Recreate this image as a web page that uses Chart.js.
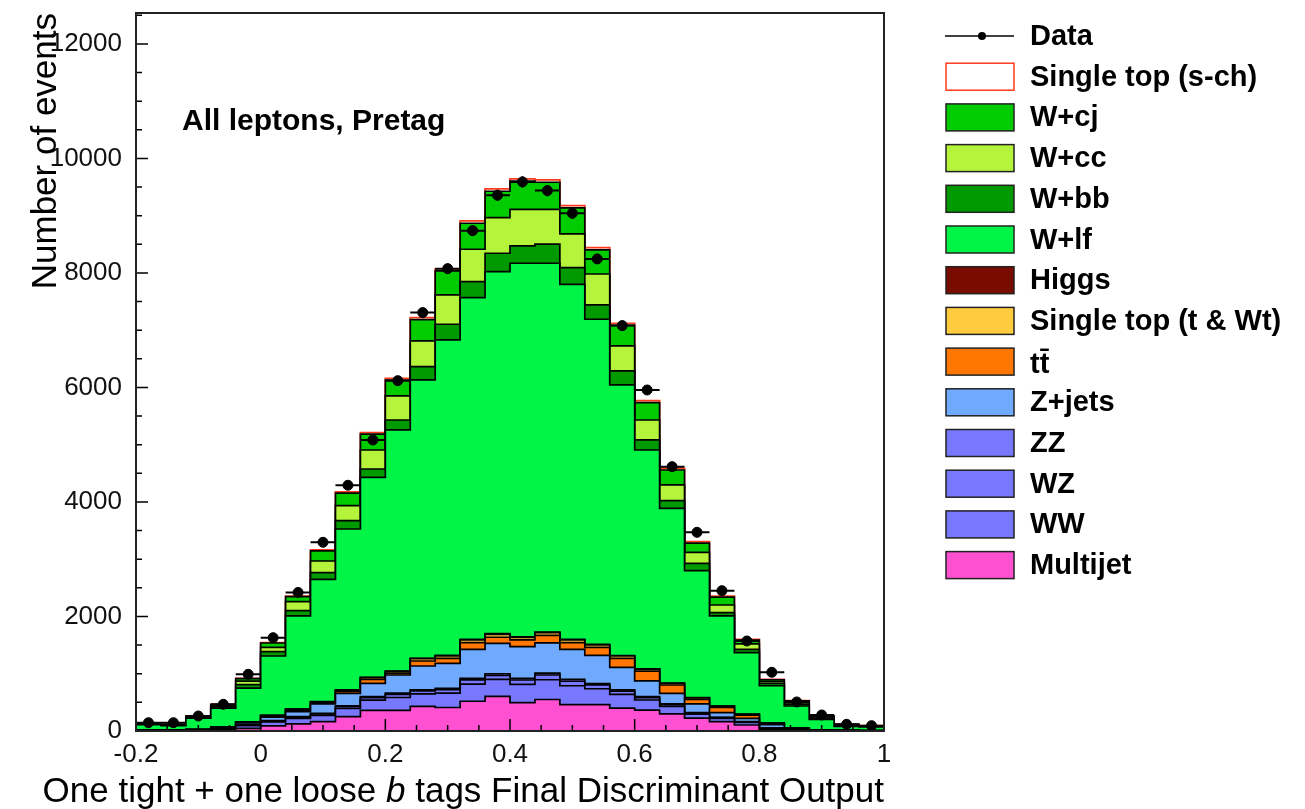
<!DOCTYPE html>
<html>
<head>
<meta charset="utf-8">
<script src="https://cdn.jsdelivr.net/npm/chart.js@4.4.1/dist/chart.umd.min.js"></script>
<style>
html, body { margin:0; padding:0; background:#fff; }
</style>
</head>
<body>
<canvas id="disc" width="1305" height="809"></canvas>
<script>
// bin edges of the discriminant histogram
const edges = [-0.2,-0.16,-0.12,-0.08,-0.04,0,0.04,0.08,0.12,0.16,0.2,0.24,0.28,0.32,0.36,0.4,0.44,0.48,0.52,0.56,0.6,0.64,0.68,0.72,0.76,0.8,0.84,0.88,0.92,0.96,1];

// event counts per bin, stack order bottom -> top
const multijet = [2,2,3,5,45,90,125,165,250,360,360,430,410,520,605,495,550,460,460,400,365,300,225,165,105,30,10,5,3,2];
const ww = [6,6,9,26,49,68,94,109,143,180,225,218,251,300,296,319,345,330,278,240,176,129,71,56,44,15,11,4,2,2];
const wz = [1,1,2,6,12,16,22,26,34,43,54,52,60,72,71,77,83,79,67,58,42,31,17,14,10,4,3,1,1,0];
const zz = [1,1,1,3,4,6,9,10,13,17,21,20,24,28,28,29,32,31,25,22,17,12,7,5,4,1,1,0,0,0];
const zjets = [5,5,7,15,30,60,90,162,218,233,318,415,437,507,532,553,530,527,490,390,277,186,152,80,59,60,10,4,2,1];
const ttbar = [3,3,4,7,10,20,25,18,32,70,32,88,88,116,105,117,130,118,140,160,168,145,81,93,57,20,10,4,2,1];
const stopT = [1,1,2,4,8,12,16,20,25,30,32,40,42,50,52,45,48,45,45,40,35,30,25,20,12,8,4,2,1,1];
const higgs = [0,0,0,1,1,2,2,3,4,5,6,7,8,9,10,9,10,9,8,7,6,5,4,3,2,1,1,0,0,0];
const wlf = [91,76,197,333,591,1036,1626,2136,2809,3493,4210,4861,5510,5967,6324,6525,6441,6203,5678,4727,3822,3051,2218,1573,1075,651,387,184,69,63];
const wbb = [8,7,13,25,60,76,92,116,146,145,174,233,274,280,321,303,333,291,250,244,175,133,129,58,59,40,33,21,15,8];
const wcc = [8,6,12,20,60,76,158,204,262,332,420,448,512,565,623,640,610,588,541,437,349,275,192,134,93,30,30,20,10,7];
const wcj = [8,6,10,18,45,75,87,178,219,278,278,373,419,454,460,490,472,455,420,361,303,261,161,137,67,32,25,14,10,7];
const stopS = [1,1,2,3,5,8,12,15,20,25,30,35,35,40,40,40,40,40,40,35,35,30,25,20,15,8,5,3,1,1];
const dataCounts = [145,145,262,466,990,1630,2420,3296,4292,5083,6119,7307,8075,8739,9357,9590,9438,9043,8245,7080,5956,4617,3470,2451,1572,1025,507,280,117,93];

const yTicks = [0,2000,4000,6000,8000,10000,12000];
const xTicks = [-0.2,0,0.2,0.4,0.6,0.8,1];
const xMinor = [-0.15,-0.1,-0.05,0.05,0.1,0.15,0.25,0.3,0.35,0.45,0.5,0.55,0.65,0.7,0.75,0.85,0.9,0.95];

const layers = [
  ['Multijet', multijet, '#ff50d2'],
  ['WW', ww, '#7878ff'],
  ['WZ', wz, '#7878ff'],
  ['ZZ', zz, '#7878ff'],
  ['Z+jets', zjets, '#70aaff'],
  ['tt\u0304', ttbar, '#ff7700'],
  ['Single top (t & Wt)', stopT, '#ffcc40'],
  ['Higgs', higgs, '#780c00'],
  ['W+lf', wlf, '#00f546'],
  ['W+bb', wbb, '#009a00'],
  ['W+cc', wcc, '#b4f53c'],
  ['W+cj', wcj, '#00cc00'],
  ['Single top (s-ch)', stopS, '#ffffff']
];

function steps(vals) {
  const pts = vals.map((v, i) => ({x: edges[i], y: v}));
  pts.push({x: edges[vals.length], y: vals[vals.length - 1]});
  return pts;
}

const datasets = layers.map((l, i) => ({
  label: l[0],
  data: steps(l[1]),
  stepped: 'before',
  fill: i === 0 ? 'origin' : '-1',
  backgroundColor: l[2],
  borderColor: l[0] === 'Single top (s-ch)' ? '#ff3a1a' : '#000',
  borderWidth: 1.7,
  pointRadius: 0,
  stack: 'mc',
  order: 1
}));

datasets.push({
  label: 'Data',
  data: dataCounts.map((v, i) => ({x: (edges[i] + edges[i+1]) / 2, y: v})),
  showLine: false,
  fill: false,
  pointRadius: 5,
  pointBackgroundColor: '#000',
  pointBorderColor: '#000',
  stack: 'data',
  order: 0
});

const font = 'Liberation Sans, Arial, sans-serif';

const decor = {
  id: 'decor',
  afterDatasetsDraw(chart) {
    const {ctx, chartArea: a, scales: {x, y}} = chart;
    ctx.save();
    ctx.strokeStyle = '#000';
    ctx.fillStyle = '#000';
    // data error bars
    ctx.lineWidth = 2;
    dataCounts.forEach((v, i) => {
      const py = y.getPixelForValue(v);
      const cx = x.getPixelForValue((edges[i] + edges[i+1]) / 2);
      ctx.beginPath();
      ctx.moveTo(x.getPixelForValue(edges[i]), py);
      ctx.lineTo(x.getPixelForValue(edges[i+1]), py);
      ctx.moveTo(cx, y.getPixelForValue(v + Math.sqrt(v)));
      ctx.lineTo(cx, y.getPixelForValue(Math.max(0, v - Math.sqrt(v))));
      ctx.stroke();
    });
    // inward ticks
    ctx.lineWidth = 1.5;
    ctx.beginPath();
    y.ticks.forEach(t => {
      const py = y.getPixelForValue(t.value);
      const len = t.value % 2000 === 0 ? 12 : 6;
      ctx.moveTo(a.left, py); ctx.lineTo(a.left + len, py);
    });
    x.ticks.forEach(t => {
      const k = Math.round(t.value * 100);
      const px = x.getPixelForValue(t.value);
      const len = k % 20 === 0 ? 12 : 6;
      ctx.moveTo(px, a.bottom); ctx.lineTo(px, a.bottom - len);
    });
    ctx.stroke();
    // frame
    ctx.lineWidth = 2;
    ctx.strokeStyle = '#222';
    ctx.strokeRect(a.left, a.top, a.right - a.left, a.bottom - a.top);

    // plot label
    ctx.font = 'bold 30px ' + font;
    ctx.textBaseline = 'middle';
    ctx.fillText('All leptons, Pretag', 182, 122);

    // y title
    ctx.save();
    ctx.font = '35px ' + font;
    ctx.translate(56, a.top);
    ctx.rotate(-Math.PI / 2);
    ctx.textAlign = 'right';
    ctx.textBaseline = 'alphabetic';
    ctx.fillText('Number of events', 0, 0);
    ctx.restore();

    // x title with italic b
    const parts = [['One tight + one loose ', '35px '], ['b', 'italic 35px '], [' tags Final Discriminant Output', '35px ']];
    let w = 0;
    parts.forEach(p => { ctx.font = p[1] + font; w += ctx.measureText(p[0]).width; });
    let px = a.right - w;
    ctx.textAlign = 'left';
    ctx.textBaseline = 'alphabetic';
    parts.forEach(p => { ctx.font = p[1] + font; ctx.fillText(p[0], px, 802); px += ctx.measureText(p[0]).width; });

    // legend
    const entries = [['Data', null, null]].concat(layers.slice().reverse());
    ctx.font = 'bold 29px ' + font;
    ctx.textBaseline = 'middle';
    entries.forEach((e, i) => {
      const cy = 36 + i * 40.7;
      if (e[0] === 'Data') {
        ctx.strokeStyle = '#000';
        ctx.lineWidth = 1.5;
        ctx.beginPath(); ctx.moveTo(945, cy); ctx.lineTo(1014, cy); ctx.stroke();
        ctx.beginPath(); ctx.arc(982, cy, 4, 0, Math.PI * 2); ctx.fill();
      } else {
        ctx.fillStyle = e[2];
        ctx.fillRect(946, cy - 13.5, 68, 27);
        ctx.strokeStyle = e[0] === 'Single top (s-ch)' ? '#ff3a1a' : '#222';
        ctx.lineWidth = 1.5;
        ctx.strokeRect(946, cy - 13.5, 68, 27);
      }
      ctx.fillStyle = '#000';
      ctx.fillText(e[0], 1030, cy + (e[0] === 'tt\u0304' ? 3 : 1));
    });
    ctx.restore();
  }
};

new Chart(document.getElementById('disc'), {
  type: 'line',
  data: { datasets: datasets },
  options: {
    responsive: false,
    animation: false,
    layout: { padding: { top: 13, right: 421, left: 0, bottom: 0 } },
    plugins: { legend: { display: false }, tooltip: { enabled: false } },
    scales: {
      x: {
        type: 'linear', min: -0.2, max: 1,
        grid: { display: false, drawTicks: false },
        border: { display: false },
        afterFit: s => { s.height = 78; s.paddingLeft = 0; s.paddingRight = 0; },
        afterBuildTicks: s => { s.ticks = xTicks.concat(xMinor).sort((p, q) => p - q).map(v => ({value: v})); },
        ticks: {
          autoSkip: false, maxRotation: 0, padding: 8, color: '#111',
          font: { family: font, size: 26 },
          callback: v => { const k = Math.round(v * 100); return k % 20 === 0 ? String(k / 100) : ''; }
        }
      },
      y: {
        stacked: true, min: 0, max: 12540,
        grid: { display: false, drawTicks: false },
        border: { display: false },
        afterFit: s => { s.width = 136; s.paddingTop = 0; s.paddingBottom = 0; },
        afterBuildTicks: s => { const t = []; for (let v = 0; v <= 12500; v += 500) t.push({value: v}); s.ticks = t; },
        ticks: {
          autoSkip: false, padding: 14, color: '#111',
          font: { family: font, size: 26 },
          callback: v => yTicks.includes(v) ? String(v) : ''
        }
      }
    }
  },
  plugins: [decor]
});
</script>
</body>
</html>
